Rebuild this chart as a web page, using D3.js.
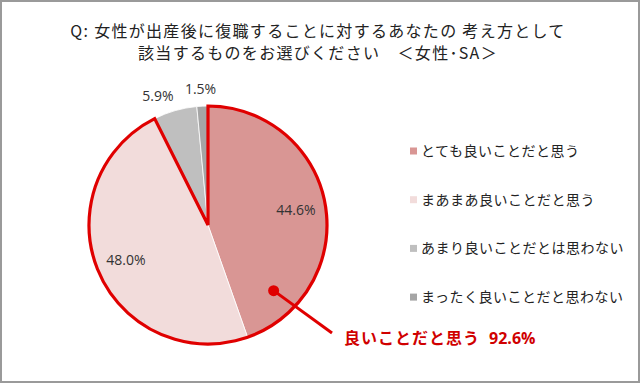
<!DOCTYPE html>
<html>
<head>
<meta charset="utf-8">
<script src="https://cdn.jsdelivr.net/npm/d3@7"></script>
<style>
  body { margin: 0; background: #fff; }
  svg { display: block; }
</style>
</head>
<body>
<svg id="chart" width="640" height="383"></svg>
<script>
var categories = ["とても良いことだと思う", "まあまあ良いことだと思う", "あまり良いことだとは思わない", "まったく良いことだと思わない"];
var values = [44.6, 48.0, 5.9, 1.5];
var colors = ["#d99694", "#f2dcdb", "#bfbfbf", "#a5a5a5"];
var titleLines = ["Q: 女性が出産後に復職することに対するあなたの 考え方として", "該当するものをお選びください　＜女性･SA＞"];
var calloutText = "良いことだと思う";
var calloutValue = "92.6%";

var svg = d3.select("#chart");
var jp = "'Noto Sans CJK JP', sans-serif";

// frame
svg.append("rect")
    .attr("x", 1).attr("y", 1)
    .attr("width", 638).attr("height", 381)
    .attr("fill", "#fff")
    .attr("stroke", "#9a9a9a")
    .attr("stroke-width", 2);

// title
svg.selectAll(".title")
    .data(titleLines)
    .enter()
    .append("text")
    .attr("class", "title")
    .attr("x", 318)
    .attr("y", function(d, i){ return 37 + i * 22; })
    .attr("text-anchor", "middle")
    .attr("font-family", jp)
    .attr("font-size", 16)
    .attr("letter-spacing", 1.3)
    .attr("fill", "#222")
    .text(function(d){ return d; });

var cx = 208, cy = 225, r = 119;
var g = svg.append("g").attr("transform", "translate(" + cx + "," + cy + ")");

var pie = d3.pie().sort(null).value(function(d){ return d; });
var arcs = pie(values);
var arc = d3.arc().innerRadius(0).outerRadius(r);

g.selectAll(".slice")
    .data(arcs)
    .enter()
    .append("path")
    .attr("class", "slice")
    .attr("d", arc)
    .attr("fill", function(d, i){ return colors[i]; })
    .attr("stroke", "#fff")
    .attr("stroke-width", 0.8);

// red outline around first two slices
var good = values[0] + values[1];
var total = d3.sum(values);
g.append("path")
    .attr("d", d3.arc().innerRadius(0).outerRadius(r)({startAngle: 0, endAngle: 2 * Math.PI * good / total}))
    .attr("fill", "none")
    .attr("stroke", "#e00000")
    .attr("stroke-width", 3.2)
    .attr("stroke-linejoin", "miter");

// value labels
var labelPos = [
  d3.arc().innerRadius(r * 0.75).outerRadius(r * 0.75),
  d3.arc().innerRadius(r * 0.75).outerRadius(r * 0.75),
  d3.arc().innerRadius(r * 1.13).outerRadius(r * 1.13),
  d3.arc().innerRadius(r * 1.15).outerRadius(r * 1.15)
];
var labelShift = [[0, 0], [0, 0], [-13, 0], [-1, 1]];
g.selectAll(".val")
    .data(arcs)
    .enter()
    .append("text")
    .attr("class", "val")
    .attr("transform", function(d, i){
      var c = labelPos[i].centroid(d);
      return "translate(" + (c[0] + labelShift[i][0]) + "," + (c[1] + labelShift[i][1]) + ")";
    })
    .attr("dy", "0.35em")
    .attr("text-anchor", "middle")
    .attr("font-family", "'Open Sans', sans-serif")
    .attr("font-size", 14)
    .attr("fill", "#333")
    .text(function(d){ return d.data.toFixed(1) + "%"; });

// callout
var dotAngle = 2 * Math.PI * 0.375;
var dotR = r * 0.78;
var dot = [Math.sin(dotAngle) * dotR, -Math.cos(dotAngle) * dotR];
g.append("line")
    .attr("x1", dot[0]).attr("y1", dot[1])
    .attr("x2", 332 - cx).attr("y2", 333 - cy)
    .attr("stroke", "#e00000")
    .attr("stroke-width", 3);
g.append("circle")
    .attr("cx", dot[0]).attr("cy", dot[1])
    .attr("r", 5.5)
    .attr("fill", "#e00000");

var callout = svg.append("text")
    .attr("x", 344)
    .attr("y", 344)
    .attr("font-family", jp)
    .attr("font-weight", "bold")
    .attr("font-size", 16)
    .attr("letter-spacing", 1)
    .attr("fill", "#d00000");
callout.append("tspan").text(calloutText);
callout.append("tspan")
    .attr("dx", 9)
    .attr("font-family", "'Open Sans', sans-serif")
    .attr("font-size", 16)
    .attr("letter-spacing", 0)
    .text(calloutValue);

// legend
var legend = svg.selectAll(".legend")
    .data(categories)
    .enter()
    .append("g")
    .attr("class", "legend")
    .attr("transform", function(d, i){ return "translate(410," + (151 + i * 48.7) + ")"; });
legend.append("rect")
    .attr("x", 0).attr("y", -3.5)
    .attr("width", 7).attr("height", 7)
    .attr("fill", function(d, i){ return colors[i]; });
legend.append("text")
    .attr("x", 11)
    .attr("dy", "0.36em")
    .attr("font-family", jp)
    .attr("font-size", 14)
    .attr("letter-spacing", 0.5)
    .attr("fill", "#222")
    .text(function(d){ return d; });
</script>
</body>
</html>
